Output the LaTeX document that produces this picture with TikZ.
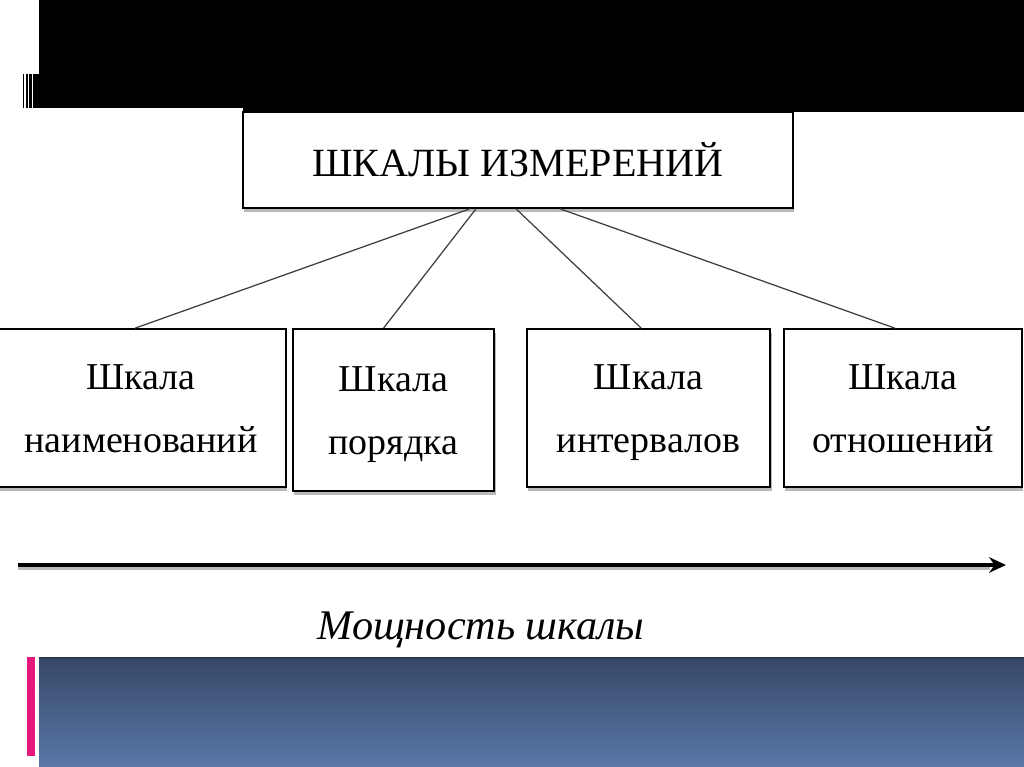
\documentclass[tikz,border=0pt]{standalone}
\usepackage{fontspec}
\setmainfont{Liberation Serif}
\usetikzlibrary{arrows.meta}

\definecolor{bandtop}{HTML}{364867}
\definecolor{bandbot}{HTML}{5A77A9}
\definecolor{bandline}{HTML}{2B374D}
\definecolor{accentpink}{HTML}{E6187D}

\tikzset{
  scalebox/.style={draw, fill=white, line width=1.1pt, align=center, inner sep=0pt,
    font=\fontsize{27}{45}\selectfont,
    preaction={fill=gray!55, transform canvas={shift={(1pt,-3pt)}}}},
  link/.style={black!75, line width=0.9pt}
}

\begin{document}
\begin{tikzpicture}[x=0.025cm, y=-0.025cm]
  \useasboundingbox (0,0) rectangle (1024,767);
  \clip (0,0) rectangle (1024,767);

  % slide decoration
  \fill[black] (39,0) rectangle (1024,108);
  \fill[black] (243,108) rectangle (1024,112);
  \foreach \xa/\xb in {22.7/24.3, 26/28, 29.3/31.7, 33.3/39}
    \fill[black] (\xa,74) rectangle (\xb,108);
  \shade[top color=bandtop, bottom color=bandbot] (39,658) rectangle (1024,767);
  \draw[bandline, line width=1pt] (39,658) -- (1024,658);
  \fill[accentpink] (27,657) rectangle (35,756);

  % boxes
  \node[scalebox, minimum width=13.75cm, minimum height=2.4cm,
        font=\fontsize{28.5}{30}\selectfont] (top) at (518,160) {ШКАЛЫ ИЗМЕРЕНИЙ};
  \node[scalebox, minimum width=7.25cm, minimum height=3.95cm] (nom) at (141,408)
    {\strut Шкала\\\strut наименований};
  \node[scalebox, minimum width=5.03cm, minimum height=4.05cm] (ord) at (393.5,410)
    {\strut Шкала\\\strut порядка};
  \node[scalebox, minimum width=6.08cm, minimum height=3.95cm] (int) at (648.5,408)
    {\strut Шкала\\\strut интервалов};
  \node[scalebox, minimum width=5.95cm, minimum height=3.95cm] (rat) at (903,408)
    {\strut Шкала\\\strut отношений};

  % connectors
  \draw[link] ([xshift=-1.2cm]top.south) -- ([xshift=-0.15cm]nom.north);
  \draw[link] ([xshift=-1.05cm]top.south) -- ([xshift=-0.25cm]ord.north);
  \draw[link] ([xshift=-0.05cm]top.south) -- ([xshift=-0.18cm]int.north);
  \draw[link] ([xshift=1.05cm]top.south) -- ([xshift=-0.2cm]rat.north);

  % power axis
  \coordinate (ax0) at (18,565);
  \coordinate (ax1) at (1006,565);
  \draw[gray!55, line width=2.5pt] ([yshift=-2.5pt]ax0) -- ([yshift=-2.5pt,xshift=-0.4cm]ax1);
  \draw[line width=2.8pt, -{Stealth[length=12pt, width=11pt]}] (ax0) -- (ax1);
  \node[font=\fontsize{30}{32}\itshape] (power) at (481,630) {Мощность шкалы};
\end{tikzpicture}
\end{document}
